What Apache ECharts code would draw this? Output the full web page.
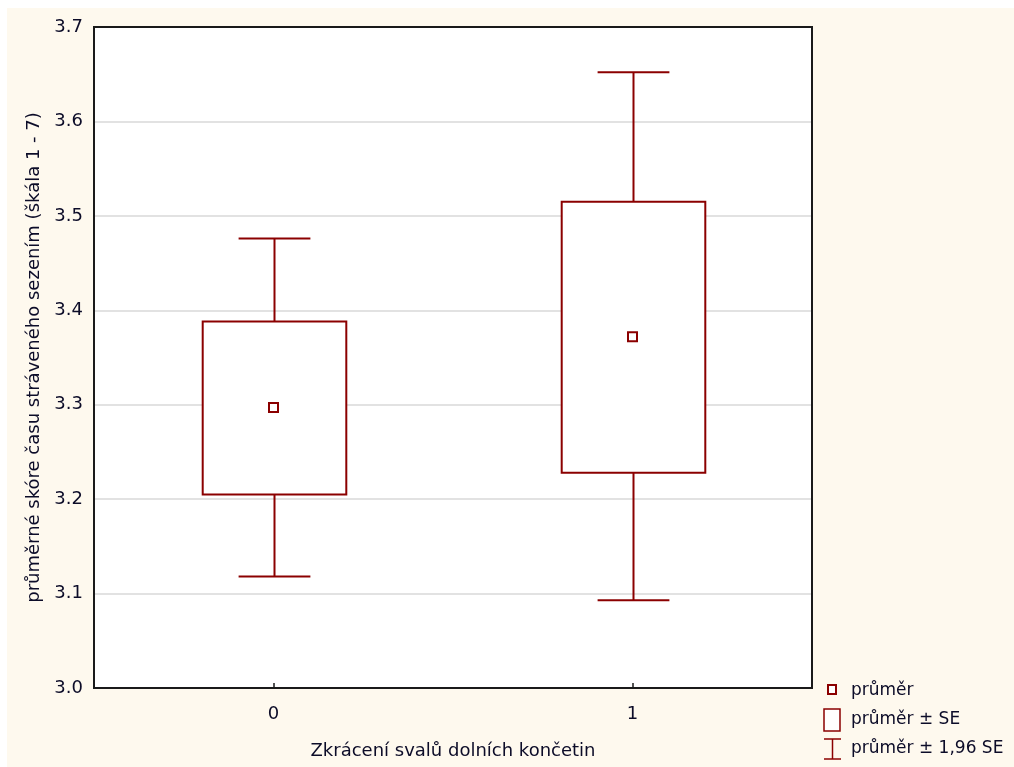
<!DOCTYPE html>
<html>
<head>
<meta charset="utf-8">
<script src="https://cdn.jsdelivr.net/npm/echarts@6/dist/echarts.min.js"></script>
<style>
html,body{margin:0;padding:0;background:#ffffff;}
#c{width:1014px;height:767px;}
</style>
</head>
<body>
<div id="c"></div>
<script>
// Data
const categories = ['0', '1'];
const means  = [3.297, 3.372];
const seLow  = [3.205, 3.228];
const seHigh = [3.388, 3.515];
const ciLow  = [3.118, 3.093];
const ciHigh = [3.476, 3.652];
const yTicks = [3.0, 3.1, 3.2, 3.3, 3.4, 3.5, 3.6, 3.7];
const legendLabels = ['průměr', 'průměr ± SE', 'průměr ± 1,96 SE'];
const xTitle = 'Zkrácení svalů dolních končetin';
const yTitle = 'průměrné skóre času stráveného sezením (škála 1 - 7)';

const RED = '#8b0000';
const TXT = '#0c0c28';
const FONT = 'DejaVu Sans';

const boxData = categories.map((c, i) => [i, ciLow[i], seLow[i], means[i], seHigh[i], ciHigh[i]]);
const meanData = categories.map((c, i) => [i, means[i]]);

const chart = echarts.init(document.getElementById('c'), null, {renderer: 'canvas'});

const option = {
  backgroundColor: '#ffffff',
  animation: false,
  grid: {
    left: 94, right: 202, top: 27, bottom: 79,
    outerBoundsMode: 'none',
    containLabel: false,
    show: true, borderWidth: 0, backgroundColor: '#ffffff', z: 0
  },
  graphic: [
    { type: 'rect', z: -10, silent: true, shape: {x: 7, y: 8, width: 1007, height: 759}, style: {fill: '#fef9ee'} },
    // plot frame
    { type: 'rect', z: 100, silent: true, shape: {x: 94, y: 27, width: 718, height: 661}, style: {fill: null, stroke: '#1a1a1a', lineWidth: 2} },
    // legend
    { type: 'rect', shape: {x: 828, y: 685, width: 8, height: 9}, style: {fill: '#ffffff', stroke: RED, lineWidth: 2} },
    { type: 'rect', shape: {x: 824, y: 709, width: 16, height: 22}, style: {fill: '#ffffff', stroke: RED, lineWidth: 1.5} },
    { type: 'line', shape: {x1: 824, y1: 739, x2: 841, y2: 739}, style: {stroke: RED, lineWidth: 1.5} },
    { type: 'line', shape: {x1: 832.5, y1: 739, x2: 832.5, y2: 759}, style: {stroke: RED, lineWidth: 1.5} },
    { type: 'line', shape: {x1: 824, y1: 759, x2: 841, y2: 759}, style: {stroke: RED, lineWidth: 1.5} },
    { type: 'text', x: 851, y: 691, style: {text: legendLabels[0], fill: TXT, font: '17px "DejaVu Sans"', verticalAlign: 'middle'} },
    { type: 'text', x: 851, y: 720, style: {text: legendLabels[1], fill: TXT, font: '17px "DejaVu Sans"', verticalAlign: 'middle'} },
    { type: 'text', x: 851, y: 749, style: {text: legendLabels[2], fill: TXT, font: '17px "DejaVu Sans"', verticalAlign: 'middle'} },
    // inward category ticks on the bottom frame
    { type: 'line', z: 101, silent: true, shape: {x1: 274, y1: 683, x2: 274, y2: 688}, style: {stroke: '#1a1a1a', lineWidth: 1.5} },
    { type: 'line', z: 101, silent: true, shape: {x1: 633, y1: 683, x2: 633, y2: 688}, style: {stroke: '#1a1a1a', lineWidth: 1.5} }
  ],
  xAxis: {
    type: 'category',
    data: categories,
    name: xTitle,
    nameLocation: 'middle',
    nameGap: 54,
    nameTextStyle: {color: TXT, fontFamily: FONT, fontSize: 18},
    axisLine: {show: false},
    axisTick: {show: false},
    axisLabel: {color: TXT, fontFamily: FONT, fontSize: 18, margin: 17},
    splitLine: {show: false}
  },
  yAxis: {
    type: 'value',
    min: 3.0, max: 3.7, interval: 0.1,
    name: yTitle,
    nameLocation: 'middle',
    nameGap: 50,
    nameRotate: 90,
    nameTextStyle: {color: TXT, fontFamily: FONT, fontSize: 18},
    axisLine: {show: false},
    axisTick: {show: false},
    axisLabel: {color: TXT, fontFamily: FONT, fontSize: 18, margin: 11,
      formatter: v => { const t = yTicks.find(k => Math.abs(k - v) < 1e-6); return (t !== undefined ? t : v).toFixed(1); }},
    splitLine: {show: true, showMinLine: false, showMaxLine: false, lineStyle: {color: '#d9d9d9', width: 1.5}}
  },
  series: [
    {
      type: 'custom',
      z: 5,
      data: boxData,
      encode: {x: 0, y: [1, 2, 3, 4, 5]},
      renderItem: function (params, api) {
        const xi = api.value(0);
        const band = api.size([1, 0])[0];
        const boxW = band * 0.4;
        const capW = band * 0.2;
        const pCiLo = api.coord([xi, api.value(1)]);
        const pSeLo = api.coord([xi, api.value(2)]);
        const pSeHi = api.coord([xi, api.value(4)]);
        const pCiHi = api.coord([xi, api.value(5)]);
        const cx = Math.round(pCiLo[0]) + 0.5;
        const st = {stroke: RED, lineWidth: 2, fill: null};
        return {
          type: 'group',
          children: [
            {type: 'line', shape: {x1: cx, y1: pCiHi[1], x2: cx, y2: pSeHi[1]}, style: st},
            {type: 'line', shape: {x1: cx, y1: pSeLo[1], x2: cx, y2: pCiLo[1]}, style: st},
            {type: 'line', shape: {x1: cx - capW / 2, y1: pCiHi[1], x2: cx + capW / 2, y2: pCiHi[1]}, style: st},
            {type: 'line', shape: {x1: cx - capW / 2, y1: pCiLo[1], x2: cx + capW / 2, y2: pCiLo[1]}, style: st},
            {type: 'rect', shape: {x: cx - boxW / 2, y: pSeHi[1], width: boxW, height: pSeLo[1] - pSeHi[1]},
              style: {stroke: RED, lineWidth: 2, fill: '#ffffff'}}
          ]
        };
      }
    },
    {
      type: 'scatter',
      z: 10,
      data: meanData,
      symbol: 'rect',
      symbolSize: [9, 9],
      itemStyle: {color: '#ffffff', borderColor: RED, borderWidth: 2, opacity: 1}
    }
  ]
};
chart.setOption(option);
</script>
</body>
</html>
